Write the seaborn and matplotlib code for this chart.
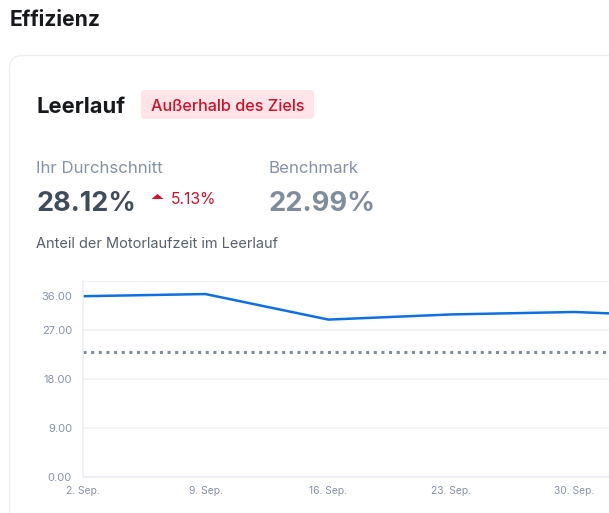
import matplotlib
matplotlib.use("Agg")
import matplotlib.pyplot as plt
from matplotlib.patches import FancyBboxPatch, Polygon
from matplotlib.transforms import ScaledTranslation
import pandas as pd
import seaborn as sns

# Values
dates = pd.to_datetime(["2019-09-02", "2019-09-09", "2019-09-16", "2019-09-23", "2019-09-30", "2019-10-07"])
idle_share = [33.2, 33.6, 28.9, 29.85, 30.3, 29.4]
benchmark = 22.99
y_ticks = [0, 9, 18, 27, 36]
y_labels = ["0.00", "9.00", "18.00", "27.00", "36.00"]
x_labels = ["2. Sep.", "9. Sep.", "16. Sep.", "23. Sep.", "30. Sep.", "7. Okt."]

W, H = 609, 513
GRID = "#EFF1F5"
TICK = "#8492A6"
RED = "#D0112B"

sns.set_theme(style="white")
plt.rcParams["font.family"] = ["Inter", "DejaVu Sans"]

fig = plt.figure(figsize=(W / 100, H / 100), dpi=100, facecolor="white")

# Page layer in pixel coordinates
bg = fig.add_axes([0, 0, 1, 1])
bg.set_xlim(0, W)
bg.set_ylim(H, 0)
bg.axis("off")

# Card runs off the right and bottom edges
bg.add_patch(FancyBboxPatch((22, 68), 700, 600, boxstyle="round,pad=12.5,rounding_size=13",
                            fc="white", ec="#ECEDEF", lw=0.9))
# Badge
bg.add_patch(FancyBboxPatch((145, 94), 165, 21, boxstyle="round,pad=4,rounding_size=4",
                            fc="#FFE5E8", ec="none"))
bg.add_patch(Polygon([[151.5, 199], [157.5, 194], [163.5, 199]], closed=True, fc=RED, ec="none"))


def px_text(x, y, s, size_px, color, weight="normal"):
    bg.text(x, y, s, fontsize=size_px * 0.72, color=color, fontweight=weight, va="baseline", ha="left")


px_text(9.5, 26, "Effizienz", 21.2, "#17191C", "bold")
px_text(36.5, 113, "Leerlauf", 22, "#17191C", "bold")
px_text(151, 111, "Außerhalb des Ziels", 16.2, RED, "medium")
px_text(36.5, 173, "Ihr Durchschnitt", 16.9, TICK)
px_text(269, 173, "Benchmark", 16.9, TICK)
px_text(36.5, 211, "28.12%", 27, "#3F4C5C", "bold")
px_text(171, 204, "5.13%", 15.7, RED)
px_text(269, 211, "22.99%", 27.4, "#7F8C9C", "bold")
px_text(36.5, 248, "Anteil der Motorlaufzeit im Leerlauf", 14.5, "#56616F")

# Chart, the time axis is cut by the right edge of the page
left, right, top, bottom = 82.5, W, 281, 476.7
ax = fig.add_axes([left / W, (H - bottom) / H, (right - left) / W, (bottom - top) / H])
ax.patch.set_alpha(0)

df = pd.DataFrame({"date": dates, "value": idle_share})
sns.lineplot(data=df, x="date", y="value", ax=ax, color="#0F6FDE", linewidth=1.8)
ax.axhline(benchmark, color="#7F8C9C", linewidth=2.2, linestyle=(0, (1, 1.5)), zorder=1.5)

day_px = (574.3 - left) / 28
ax.set_xlim(dates[0], dates[0] + pd.Timedelta(days=(right - left) / day_px))
ax.set_ylim(0, 36)
ax.set_xlabel("")
ax.set_ylabel("")

ax.set_yticks(y_ticks, y_labels)
ax.set_xticks(dates[:5], x_labels[:5])
ax.yaxis.grid(True, color=GRID, linewidth=1.2)
ax.xaxis.grid(False)
ax.tick_params(axis="y", length=7, width=1.2, color=GRID, labelcolor=TICK, labelsize=8, pad=0.5)
ax.tick_params(axis="x", length=0, labelcolor=TICK, labelsize=7.4, pad=7)

# Top label sits lower than its gridline in the original
top_label = ax.get_yticklabels()[-1]
top_label.set_transform(top_label.get_transform() + ScaledTranslation(0, -15 / 100, fig.dpi_scale_trans))

sns.despine(ax=ax, top=True, right=True)
for side in ["left", "bottom"]:
    ax.spines[side].set_color("#E9ECF2")
    ax.spines[side].set_linewidth(1.1)

fig.savefig("out.png", dpi=100)
